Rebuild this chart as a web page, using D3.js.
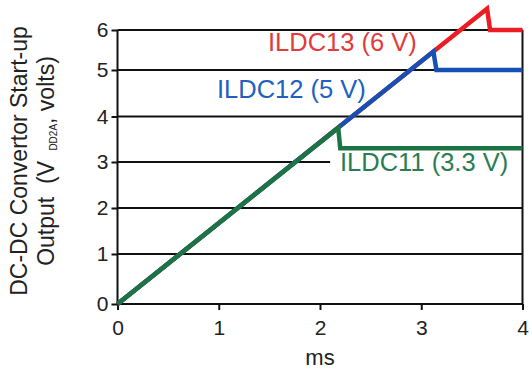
<!DOCTYPE html>
<html>
<head>
<meta charset="utf-8">
<script src="https://cdn.jsdelivr.net/npm/d3@7"></script>
<style>
  body { margin: 0; background: #ffffff; }
  svg { display: block; font-family: "Liberation Sans", Arial, Helvetica, sans-serif; }
</style>
</head>
<body>
<svg id="chart" width="532" height="372"></svg>
<script>
// Time axis (ms) and voltage axis (V) ticks
const xTicks = [0, 1, 2, 3, 4];
const yTicks = [0, 1, 2, 3, 4, 5, 6];

// Start-up traces of the three DC-DC regulators: [time ms, output V]
const ildc13 = [[0, 0], [3.65, 6.53], [3.68, 6.0], [4, 6.0]];
const ildc12 = [[0, 0], [3.12, 5.46], [3.15, 5.0], [4, 5.0]];
const ildc11 = [[0, 0], [2.18, 3.75], [2.20, 3.3], [4, 3.3]];

const seriesLabels = ["ILDC13 (6 V)", "ILDC12 (5 V)", "ILDC11 (3.3 V)"];
const seriesColors = ["#ec1c24", "#1550b4", "#1b7443"];
const labelColors  = ["#e23b3b", "#2060c0", "#2a7d52"];

// Horizontal rule at 3 V stops short to leave room for the ILDC11 label
const gridEnds = [4, 4, 4, 2.1, 4, 4, 4];

const svg = d3.select("#chart");

const x = d3.scaleLinear().domain([0, 4]).range([117.5, 522.5]);
const y = d3.scaleLinear().domain(yTicks).range([304, 254, 208, 162, 116.5, 70, 30]);

// grid rules
svg.append("g")
  .selectAll("line")
  .data(yTicks)
  .join("line")
  .attr("x1", x(0))
  .attr("x2", (d, i) => x(gridEnds[i]))
  .attr("y1", d => y(d))
  .attr("y2", d => y(d))
  .attr("stroke", "#111")
  .attr("stroke-width", 2);

// right frame edge
svg.append("line")
  .attr("x1", x(4)).attr("x2", x(4))
  .attr("y1", y(6)).attr("y2", y(0))
  .attr("stroke", "#111").attr("stroke-width", 2);

// axes
const yAxis = d3.axisLeft(y).tickValues(yTicks).tickSize(6).tickPadding(3).tickFormat(d3.format("d"));
const xAxis = d3.axisBottom(x).tickValues(xTicks).tickSize(6).tickPadding(10).tickFormat(d3.format("d"));

const gy = svg.append("g").attr("transform", `translate(${x(0)},0)`).call(yAxis);
const gx = svg.append("g").attr("transform", `translate(0,${y(0)})`).call(xAxis);

[gy, gx].forEach(g => {
  g.select(".domain").attr("stroke", "#111").attr("stroke-width", 2);
  g.selectAll(".tick line").attr("stroke", "#111").attr("stroke-width", 2);
  g.selectAll(".tick text")
    .attr("fill", "#222")
    .style("font-family", "'Liberation Sans', Arial, sans-serif")
    .style("font-size", "21px");
});
gy.select(".domain").attr("d", `M0,${y(0)}V${y(6)}`);
gx.select(".domain").attr("d", `M${x(0)},0H${x(4)}`);

// traces, drawn highest-voltage first so the lower rails sit on top
const line = d3.line().x(d => x(d[0])).y(d => y(d[1]));
const series = [ildc13, ildc12, ildc11];
svg.append("g")
  .selectAll("path")
  .data(series)
  .join("path")
  .attr("d", line)
  .attr("fill", "none")
  .attr("stroke", (d, i) => seriesColors[i])
  .attr("stroke-width", 4.5)
  .attr("stroke-linejoin", "miter")
  .attr("stroke-linecap", "butt");

// trace labels
const labelPos = [[268, 51], [217, 98], [340, 171]];
svg.append("g")
  .selectAll("text")
  .data(seriesLabels)
  .join("text")
  .attr("x", (d, i) => labelPos[i][0])
  .attr("y", (d, i) => labelPos[i][1])
  .attr("fill", (d, i) => labelColors[i])
  .style("font-size", "25.5px")
  .text(d => d);

// x axis title
svg.append("text")
  .attr("x", x(2))
  .attr("y", 365)
  .attr("text-anchor", "middle")
  .attr("fill", "#222")
  .style("font-size", "22px")
  .text("ms");

// y axis title (two lines, rotated)
const yTitle = svg.append("text")
  .attr("transform", "translate(0,161) rotate(-90)")
  .attr("text-anchor", "middle")
  .attr("fill", "#222")
  .style("font-size", "23px");
yTitle.append("tspan").attr("x", 0).attr("y", 27).text("DC-DC Convertor Start-up");
yTitle.append("tspan").attr("x", 0).attr("y", 53.5).text("Output\u00a0\u00a0(V\u00a0");
yTitle.append("tspan").attr("dx", 4).attr("dy", 3).style("font-size", "10px").text("DD2A");
yTitle.append("tspan").attr("dy", -3).text(", volts)");
</script>
</body>
</html>
